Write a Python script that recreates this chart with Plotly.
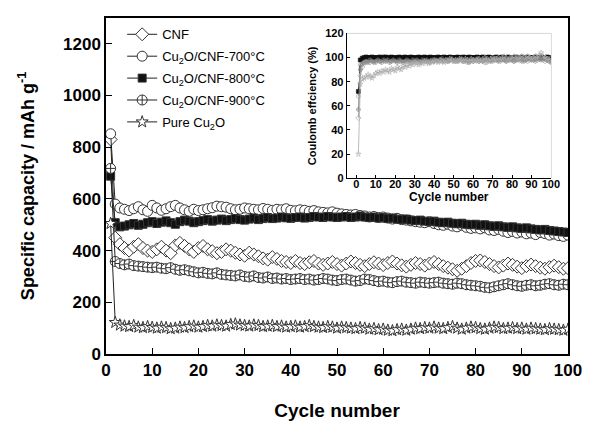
import plotly.graph_objects as go

cycles = list(range(1, 101))

cnf = [830, 450, 425, 410, 400, 415, 425, 410, 400, 395,
       405, 415, 400, 390, 420, 430, 418, 405, 395, 410,
       418, 405, 398, 390, 395, 405, 400, 392, 385, 380,
       392, 385, 378, 370, 365, 375, 368, 360, 356, 352,
       360, 352, 348, 355, 360, 350, 345, 350, 356, 348,
       342, 350, 358, 352, 345, 340, 348, 355, 350, 344,
       352, 358, 350, 343, 338, 345, 352, 348, 342, 350,
       356, 348, 340, 334, 328, 322, 330, 340, 352, 360,
       362, 356, 348, 340, 335, 342, 350, 345, 338, 332,
       340, 346, 340, 334, 330, 336, 342, 336, 330, 332]

c700 = [852, 580, 565, 560, 555, 562, 570, 558, 552, 575,
        565, 556, 562, 570, 575, 565, 558, 552, 560, 555,
        558, 562, 566, 572, 570, 568, 562, 558, 560, 565,
        562, 560, 558, 563, 560, 556, 560, 558, 562, 556,
        554, 558, 556, 552, 555, 550, 548, 546, 550, 545,
        542, 540, 538, 540, 536, 534, 530, 532, 528, 530,
        526, 522, 525, 520, 518, 515, 512, 510, 508, 512,
        505, 500, 498, 502, 495, 492, 498, 490, 486, 488,
        484, 488, 480, 478, 482, 475, 470, 474, 468, 472,
        465, 468, 462, 470, 466, 460, 464, 458, 455, 460]

c800 = [688, 508, 492, 495, 500, 505, 498, 502, 508, 512,
        505, 510, 515, 508, 502, 512, 518, 514, 508, 512,
        516, 520, 514, 518, 522, 516, 520, 524, 520, 518,
        522, 526, 520, 524, 528, 524, 526, 530, 527, 525,
        528, 530, 526, 528, 532, 530, 528, 532, 530, 528,
        530, 532, 528, 530, 534, 530, 528, 530, 526, 528,
        524, 526, 522, 520, 522, 518, 516, 518, 514, 512,
        514, 510, 508, 510, 506, 504, 506, 502, 500, 502,
        498, 500, 496, 494, 496, 492, 490, 492, 488, 486,
        488, 484, 482, 480, 482, 478, 476, 474, 472, 470]

c900 = [718, 358, 350, 345, 348, 342, 340, 338, 336, 334,
        336, 332, 330, 334, 328, 324, 326, 322, 318, 314,
        316, 312, 310, 314, 308, 306, 304, 302, 306, 300,
        298, 302, 296, 294, 298, 292, 294, 290, 292, 288,
        290, 292, 288, 290, 286, 288, 292, 290, 286, 284,
        288, 290, 286, 282, 284, 290, 288, 284, 280, 282,
        278, 276, 280, 282, 278, 276, 274, 278, 276, 274,
        276, 278, 274, 272, 270, 274, 272, 268, 266, 264,
        262, 258, 256, 260, 264, 268, 272, 268, 264, 262,
        266, 268, 264, 266, 270, 272, 268, 266, 270, 268]

pure = [505, 122, 112, 108, 106, 110, 104, 102, 106, 103,
        100, 104, 102, 98, 100, 104, 102, 106, 108, 104,
        106, 110, 108, 112, 110, 108, 114, 116, 112, 110,
        108, 112, 110, 106, 108, 110, 106, 108, 104, 106,
        108, 104, 106, 110, 106, 104, 102, 106, 104, 100,
        104, 102, 100, 98, 102, 100, 96, 98, 94, 96,
        92, 90, 94, 96, 92, 96, 100, 98, 102, 100,
        104, 100, 98, 102, 106, 100, 96, 100, 104, 102,
        98, 96, 100, 104, 102, 98, 100, 102, 98, 100,
        96, 100, 98, 96, 94, 98, 96, 94, 92, 96]

# Coulombic efficiency (inset)
ce_cnf = [50, 85, 92, 95, 96, 97, 96, 98, 97, 96,
          98, 97, 99, 98, 97, 98, 99, 97, 98, 99,
          98, 97, 98, 99, 98, 97, 99, 98, 97, 98,
          99, 98, 97, 98, 99, 98, 97, 99, 98, 97,
          98, 99, 98, 97, 98, 99, 97, 98, 99, 98,
          97, 98, 99, 98, 97, 98, 96, 98, 99, 97,
          98, 99, 97, 98, 97, 96, 98, 99, 98, 97,
          98, 99, 98, 97, 99, 98, 97, 98, 99, 98,
          97, 98, 99, 98, 97, 99, 98, 97, 98, 99,
          98, 97, 98, 99, 100, 98, 97, 98, 99, 97]

ce_700 = [68, 94, 97, 98, 99, 98, 99, 100, 99, 98,
          99, 100, 99, 101, 99, 98, 99, 100, 99, 98,
          99, 100, 99, 98, 99, 100, 99, 98, 99, 100,
          99, 98, 99, 100, 99, 98, 99, 100, 99, 98,
          99, 100, 99, 98, 99, 100, 99, 98, 99, 100,
          99, 98, 99, 100, 99, 98, 99, 97, 99, 100,
          99, 98, 99, 100, 99, 98, 96, 99, 100, 99,
          98, 99, 100, 99, 98, 99, 100, 99, 98, 99,
          100, 99, 98, 99, 100, 99, 98, 99, 100, 99,
          98, 99, 100, 99, 101, 100, 99, 98, 99, 98]

ce_800 = [72, 98, 99.5, 100, 100.5, 100, 100, 100.5, 100, 100,
          100, 100.5, 100, 100, 100.5, 100, 100, 100.5, 100, 100,
          100, 100.5, 100, 100, 100.5, 100, 100, 100.5, 100, 100,
          100, 100.5, 100, 100, 100.5, 100, 100, 100.5, 100, 100,
          100, 100.5, 100, 100, 100.5, 100, 100, 100.5, 100, 100,
          100, 100.5, 100, 100, 100.5, 100, 100, 100.5, 100, 100,
          100, 100.5, 100, 100, 100.5, 100, 100, 100.5, 100, 100,
          100, 100.5, 100, 100, 100.5, 100, 100, 100.5, 100, 100,
          100, 100.5, 100, 100, 100.5, 100, 100, 100.5, 100, 100,
          100, 100.5, 100, 100, 100.5, 100, 100, 100.5, 100, 100]

ce_900 = [57, 90, 95, 96, 97, 96, 98, 97, 96, 97,
          98, 97, 96, 98, 97, 98, 96, 97, 98, 97,
          96, 98, 97, 96, 97, 98, 97, 96, 98, 97,
          98, 97, 96, 98, 97, 98, 97, 96, 98, 97,
          98, 97, 98, 99, 97, 98, 97, 98, 99, 97,
          98, 97, 98, 99, 97, 98, 97, 96, 98, 97,
          98, 99, 97, 98, 97, 98, 99, 98, 97, 98,
          99, 98, 97, 98, 99, 98, 97, 98, 99, 98,
          97, 98, 99, 100, 98, 97, 98, 99, 100, 98,
          99, 98, 100, 99, 98, 99, 100, 98, 97, 96]

ce_pure = [20, 78, 82, 83, 84, 86, 84, 83, 85, 87,
           88, 87, 89, 88, 90, 89, 88, 91, 90, 89,
           92, 91, 90, 93, 92, 94, 93, 95, 94, 96,
           95, 94, 96, 95, 97, 96, 95, 97, 96, 98,
           97, 96, 98, 97, 96, 98, 97, 99, 98, 97,
           98, 97, 99, 98, 97, 99, 98, 97, 99, 98,
           97, 98, 99, 97, 98, 100, 98, 97, 99, 100,
           98, 99, 100, 98, 99, 101, 99, 98, 100, 99,
           101, 99, 100, 98, 101, 100, 99, 101, 100, 99,
           100, 101, 99, 102, 104, 101, 100, 99, 98, 100]

labels = ["CNF", "Cu<sub>2</sub>O/CNF-700°C", "Cu<sub>2</sub>O/CNF-800°C",
          "Cu<sub>2</sub>O/CNF-900°C", "Pure Cu<sub>2</sub>O"]

x_ticks = list(range(0, 101, 10))
y_ticks = list(range(0, 1201, 200))
inset_y_ticks = list(range(0, 121, 20))

main_series = [cnf, c700, c800, c900, pure]
ce_series = [ce_cnf, ce_700, ce_800, ce_900, ce_pure]
symbols = ["diamond", "circle", "square", "circle-cross", "star"]
fills = ["white", "white", "#111", "white", "white"]
sizes = [10, 10, 8, 10, 9]

fig = go.Figure()
for i, (lab, ys, sym, fc, sz) in enumerate(zip(labels, main_series, symbols, fills, sizes)):
    fig.add_trace(go.Scatter(
        x=cycles, y=ys, name=lab, mode="lines+markers", legendgroup=f"g{i}",
        line=dict(color="#222", width=1),
        marker=dict(symbol=sym, size=sz, color=fc,
                    line=dict(color="#333", width=1)),
        xaxis="x", yaxis="y"))

inset_styles = [
    dict(sym="diamond-open", col="#999", dash="solid"),
    dict(sym="circle-open", col="#999", dash="solid"),
    dict(sym="square", col="#111", dash="dash"),
    dict(sym="circle-cross-open", col="#888", dash="solid"),
    dict(sym="star-open", col="#aaa", dash="solid"),
]
for ys, st in zip(ce_series, inset_styles):
    fig.add_trace(go.Scatter(
        x=cycles, y=ys, mode="lines+markers", showlegend=False,
        line=dict(color=st["col"], width=0.8, dash=st["dash"]),
        marker=dict(symbol=st["sym"], size=4, color=st["col"],
                    line=dict(color=st["col"], width=0.6)),
        xaxis="x2", yaxis="y2"))

fig.add_shape(type="rect", xref="x2 domain", yref="y2 domain",
              x0=0, x1=1, y0=0, y1=1, line=dict(color="#aaa", width=1), layer="below")

fig.update_layout(
    width=589, height=422,
    margin=dict(l=106, r=19, t=14, b=68),
    paper_bgcolor="white", plot_bgcolor="white",
    font=dict(family="Liberation Sans, Arial", color="black"),
    showlegend=True,
    legend=dict(x=0.035, y=0.996, xanchor="left", yanchor="top",
                bgcolor="rgba(0,0,0,0)", font=dict(size=13, family="Liberation Sans, Arial"),
                tracegroupgap=2, itemwidth=30),
    xaxis=dict(domain=[0, 1], range=[0, 100], tickvals=x_ticks, automargin=False,
               ticks="inside", ticklen=6, tickwidth=1.2, tickcolor="black",
               showline=True, linecolor="black", linewidth=1.5, mirror=True,
               showgrid=False, zeroline=False,
               tickfont=dict(size=17, family="Liberation Sans, Arial", weight="bold"),
               title=dict(text="<b>Cycle number</b>", font=dict(size=19), standoff=25)),
    yaxis=dict(domain=[0, 1], range=[0, 1300], tickvals=y_ticks, automargin=False,
               ticks="inside", ticklen=6, tickwidth=1.2, tickcolor="black",
               showline=True, linecolor="black", linewidth=1.5, mirror=True,
               showgrid=False, zeroline=False,
               tickfont=dict(size=17, family="Liberation Sans, Arial", weight="bold"),
               title=dict(text="<b>Specific capacity / mAh g<sup>-1</sup></b>",
                          font=dict(size=18), standoff=24)),
    xaxis2=dict(domain=[0.521, 0.963], anchor="y2", range=[-5, 100], tickvals=x_ticks,
                ticks="inside", ticklen=3, tickcolor="black", ticklabelstandoff=-4,
                showline=True, linecolor="black", linewidth=1, mirror=False,
                showgrid=False, zeroline=False,
                tickfont=dict(size=11, weight="bold"),
                title=dict(text="<b>Cycle number</b>", font=dict(size=12), standoff=1)),
    yaxis2=dict(domain=[0.523, 0.954], anchor="x2", range=[0, 120], tickvals=inset_y_ticks,
                ticks="inside", ticklen=3, tickcolor="black",
                showline=True, linecolor="black", linewidth=1, mirror=False,
                showgrid=False, zeroline=False,
                tickfont=dict(size=11, weight="bold"),
                title=dict(text="<b>Coulomb effciency (%)</b>", font=dict(size=11), standoff=6)),
)

fig.write_html("out.html")
